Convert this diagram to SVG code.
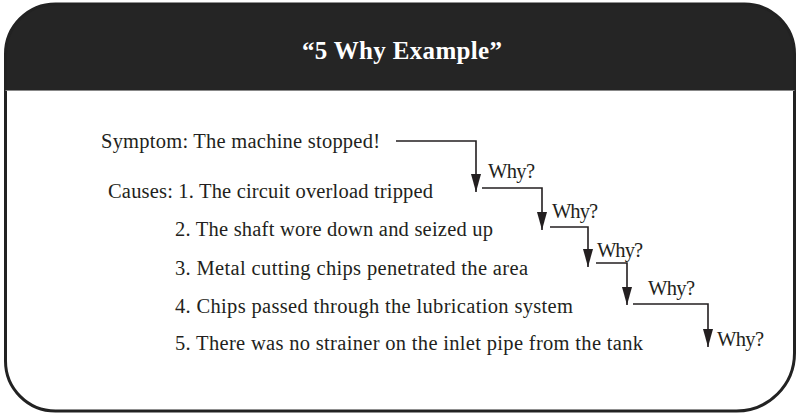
<svg xmlns="http://www.w3.org/2000/svg" width="798" height="414" viewBox="0 0 798 414">
  <style>
    .t { font-family: "Liberation Serif", "Times New Roman", serif; font-size: 20.5px; fill: #231f20; }
    .title { font-family: "Liberation Serif", "Times New Roman", serif; font-size: 25px; font-weight: bold; fill: #ffffff; }
    .conn { fill: none; stroke: #231f20; stroke-width: 1.6; }
  </style>
  <defs>
    <marker id="ah" markerUnits="userSpaceOnUse" markerWidth="20" markerHeight="12" viewBox="0 0 20 12" refX="18" refY="6" orient="auto">
      <path d="M0,1 L18,6 L0,11 Z" fill="#231f20"/>
    </marker>
  </defs>
  <rect width="798" height="414" fill="#ffffff"/>
  <g id="frame">
    <path d="M5.5,90 V54 A50,50 0 0 1 55.5,4 H744.5 A50,50 0 0 1 794.5,54 V90 Z" fill="#252525"/>
    <path d="M5.5,54 A50,50 0 0 1 55.5,4 H744.5 A50,50 0 0 1 794.5,54 V353 A58,58 0 0 1 736.5,411 H55.5 A50,50 0 0 1 5.5,361 Z" fill="none" stroke="#222222" stroke-width="3"/>
    <line x1="5.5" y1="90.5" x2="794.5" y2="90.5" stroke="#888888" stroke-width="1"/>
  </g>
  <g id="title">
    <text class="title" x="302" y="59" textLength="200" lengthAdjust="spacing">“5 Why Example”</text>
  </g>
  <g id="symptom">
    <text class="t" x="101" y="148" textLength="279" lengthAdjust="spacing">Symptom: The machine stopped!</text>
  </g>
  <g id="cause1">
    <text class="t" x="108" y="198" textLength="325" lengthAdjust="spacing">Causes: 1. The circuit overload tripped</text>
  </g>
  <g id="cause2">
    <text class="t" x="175" y="236" textLength="318" lengthAdjust="spacing">2. The shaft wore down and seized up</text>
  </g>
  <g id="cause3">
    <text class="t" x="175" y="275" textLength="353" lengthAdjust="spacing">3. Metal cutting chips penetrated the area</text>
  </g>
  <g id="cause4">
    <text class="t" x="175" y="313" textLength="398" lengthAdjust="spacing">4. Chips passed through the lubrication system</text>
  </g>
  <g id="cause5">
    <text class="t" x="175" y="350" textLength="468" lengthAdjust="spacing">5. There was no strainer on the inlet pipe from the tank</text>
  </g>
  <g id="connectors">
    <path class="conn" d="M396,141 H476 V192" marker-end="url(#ah)"/>
    <path class="conn" d="M482,188 H542 V230" marker-end="url(#ah)"/>
    <path class="conn" d="M550,227 H588 V267" marker-end="url(#ah)"/>
    <path class="conn" d="M596,263 H627 V305" marker-end="url(#ah)"/>
    <path class="conn" d="M633,304 H708 V347" marker-end="url(#ah)"/>
    <text class="t" x="488" y="178" textLength="47" lengthAdjust="spacing">Why?</text>
    <text class="t" x="552" y="218" textLength="46" lengthAdjust="spacing">Why?</text>
    <text class="t" x="597" y="257" textLength="46" lengthAdjust="spacing">Why?</text>
    <text class="t" x="648" y="295" textLength="47" lengthAdjust="spacing">Why?</text>
    <text class="t" x="717" y="346" textLength="47" lengthAdjust="spacing">Why?</text>
  </g>
</svg>
